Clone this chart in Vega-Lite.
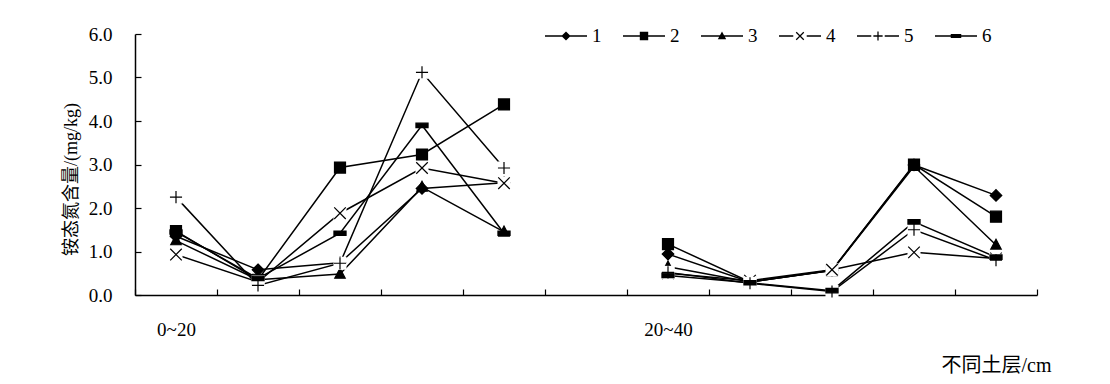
{
  "$schema": "https://vega.github.io/schema/vega-lite/v6.json",
  "width": 902,
  "height": 261,
  "autosize": "none",
  "padding": {"left": 135, "top": 34, "right": 73, "bottom": 89},
  "background": "white",
  "config": {"view": {"stroke": null}, "font": "Liberation Serif"},
  "data": {"values": [
    {"s": "1", "g": "a", "x": 1, "v": 1.35}, {"s": "1", "g": "a", "x": 2, "v": 0.58}, {"s": "1", "g": "a", "x": 3, "v": 0.74}, {"s": "1", "g": "a", "x": 4, "v": 2.45}, {"s": "1", "g": "a", "x": 5, "v": 2.58},
    {"s": "1", "g": "b", "x": 7, "v": 0.94}, {"s": "1", "g": "b", "x": 8, "v": 0.3}, {"s": "1", "g": "b", "x": 9, "v": 0.57}, {"s": "1", "g": "b", "x": 10, "v": 2.99}, {"s": "1", "g": "b", "x": 11, "v": 2.29},
    {"s": "2", "g": "a", "x": 1, "v": 1.47}, {"s": "2", "g": "a", "x": 2, "v": 0.35}, {"s": "2", "g": "a", "x": 3, "v": 2.93}, {"s": "2", "g": "a", "x": 4, "v": 3.23}, {"s": "2", "g": "a", "x": 5, "v": 4.38},
    {"s": "2", "g": "b", "x": 7, "v": 1.17}, {"s": "2", "g": "b", "x": 8, "v": 0.3}, {"s": "2", "g": "b", "x": 9, "v": 0.57}, {"s": "2", "g": "b", "x": 10, "v": 3.0}, {"s": "2", "g": "b", "x": 11, "v": 1.8},
    {"s": "3", "g": "a", "x": 1, "v": 1.25}, {"s": "3", "g": "a", "x": 2, "v": 0.35}, {"s": "3", "g": "a", "x": 3, "v": 0.48}, {"s": "3", "g": "a", "x": 4, "v": 2.48}, {"s": "3", "g": "a", "x": 5, "v": 1.45},
    {"s": "3", "g": "b", "x": 7, "v": 0.65}, {"s": "3", "g": "b", "x": 8, "v": 0.3}, {"s": "3", "g": "b", "x": 9, "v": 0.56}, {"s": "3", "g": "b", "x": 10, "v": 2.96}, {"s": "3", "g": "b", "x": 11, "v": 1.15},
    {"s": "4", "g": "a", "x": 1, "v": 0.93}, {"s": "4", "g": "a", "x": 2, "v": 0.3}, {"s": "4", "g": "a", "x": 3, "v": 1.88}, {"s": "4", "g": "a", "x": 4, "v": 2.92}, {"s": "4", "g": "a", "x": 5, "v": 2.57},
    {"s": "4", "g": "b", "x": 7, "v": 0.5}, {"s": "4", "g": "b", "x": 8, "v": 0.33}, {"s": "4", "g": "b", "x": 9, "v": 0.58}, {"s": "4", "g": "b", "x": 10, "v": 0.98}, {"s": "4", "g": "b", "x": 11, "v": 0.84},
    {"s": "5", "g": "a", "x": 1, "v": 2.25}, {"s": "5", "g": "a", "x": 2, "v": 0.22}, {"s": "5", "g": "a", "x": 3, "v": 0.73}, {"s": "5", "g": "a", "x": 4, "v": 5.12}, {"s": "5", "g": "a", "x": 5, "v": 2.92},
    {"s": "5", "g": "b", "x": 7, "v": 0.52}, {"s": "5", "g": "b", "x": 8, "v": 0.27}, {"s": "5", "g": "b", "x": 9, "v": 0.08}, {"s": "5", "g": "b", "x": 10, "v": 1.5}, {"s": "5", "g": "b", "x": 11, "v": 0.8},
    {"s": "6", "g": "a", "x": 1, "v": 1.45}, {"s": "6", "g": "a", "x": 2, "v": 0.38}, {"s": "6", "g": "a", "x": 3, "v": 1.42}, {"s": "6", "g": "a", "x": 4, "v": 3.9}, {"s": "6", "g": "a", "x": 5, "v": 1.42},
    {"s": "6", "g": "b", "x": 7, "v": 0.45}, {"s": "6", "g": "b", "x": 8, "v": 0.28}, {"s": "6", "g": "b", "x": 9, "v": 0.1}, {"s": "6", "g": "b", "x": 10, "v": 1.68}, {"s": "6", "g": "b", "x": 11, "v": 0.87}
  ]},
  "resolve": {"scale": {"shape": "independent"}},
  "encoding": {
    "x": {
      "field": "x", "type": "quantitative",
      "scale": {"domain": [0.5, 11.5], "nice": false, "zero": false},
      "axis": {
        "values": [0.5, 1.5, 2.5, 3.5, 4.5, 5.5, 6.5, 7.5, 8.5, 9.5, 10.5, 11.5],
        "labelExpr": "datum.value == 0.5 ? '0~20' : (datum.value == 6.5 ? '20~40' : '')",
        "labelOffset": 41, "labelFlush": false, "labelOverlap": false, "labelBound": false,
        "labelBaseline": "top", "labelPadding": 31, "labelFont": "Liberation Serif", "labelFontSize": 19, "labelColor": "black",
        "tickSize": -6, "tickColor": "black", "tickWidth": 1.2,
        "domainColor": "black", "domainWidth": 1.5, "grid": false,
        "title": "不同土层/cm", "titleX": 916, "titleY": 70, "titleAlign": "right", "titleBaseline": "middle",
        "titleFont": "Liberation Serif, Noto Sans CJK SC", "titleFontSize": 20, "titleFontWeight": "normal", "titleColor": "black"
      }
    },
    "y": {
      "field": "v", "type": "quantitative",
      "scale": {"domain": [0, 6], "nice": false},
      "axis": {
        "values": [0, 1, 2, 3, 4, 5, 6], "format": ".1f",
        "labelFont": "Liberation Serif", "labelFontSize": 19, "labelColor": "black", "labelPadding": 29,
        "tickSize": -6, "tickColor": "black", "tickWidth": 1.2,
        "domainColor": "black", "domainWidth": 1.5, "grid": false,
        "title": "铵态氮含量/(mg/kg)", "titleX": -55, "titleY": 145, "titleAngle": 270, "titleAlign": "center", "titleBaseline": "bottom",
        "titleFont": "Liberation Serif, Noto Sans CJK SC", "titleFontSize": 18, "titleFontWeight": "normal", "titleColor": "black"
      }
    }
  },
  "layer": [
    {
      "mark": {"type": "line", "color": "black", "strokeWidth": 1.5},
      "encoding": {"detail": [{"field": "s", "type": "nominal"}, {"field": "g", "type": "nominal"}]}
    },
    {
      "mark": {"type": "point", "filled": true, "fill": "black", "opacity": 0, "size": 10},
      "encoding": {
        "shape": {
          "field": "s", "type": "nominal",
          "scale": {
            "domain": ["1", "2", "3", "4", "5", "6"],
            "range": [
              "M-1,-0.036H1V0.036H-1ZM0,-0.22L0.22,0L0,0.22L-0.22,0Z",
              "M-1,-0.036H1V0.036H-1ZM-0.2,-0.2H0.2V0.2H-0.2Z",
              "M-1,-0.036H1V0.036H-1ZM0,-0.22L0.2,0.16L-0.2,0.16Z",
              "M-1,-0.036H-0.32V0.036H-1ZM0.32,-0.036H1V0.036H0.32ZM-0.159,-0.201L0.201,0.159L0.159,0.201L-0.201,-0.159ZM-0.201,0.159L0.159,-0.201L0.201,-0.159L-0.159,0.201Z",
              "M-1,-0.036H-0.32V0.036H-1ZM0.32,-0.036H1V0.036H0.32ZM-0.22,-0.03H0.22V0.03H-0.22ZM-0.03,-0.22H0.03V0.22H-0.03Z",
              "M-1,-0.036H1V0.036H-1ZM-0.25,-0.09H0.25V0.09H-0.25Z"
            ]
          },
          "legend": {
            "orient": "none", "legendX": 410, "legendY": -19, "direction": "horizontal", "columns": 6,
            "title": null, "symbolSize": 1764, "symbolOpacity": 1, "symbolStrokeWidth": 0, "symbolFillColor": "black",
            "labelFont": "Liberation Serif", "labelFontSize": 19, "labelColor": "black", "labelOffset": 5, "columnPadding": 21
          }
        }
      }
    },
    {
      "transform": [{"filter": "datum.s === '1' || datum.s === '2' || datum.s === '3'"}],
      "mark": {"type": "point", "filled": true, "fill": "black", "stroke": "black", "strokeWidth": 1.2, "opacity": 1, "size": 121},
      "encoding": {
        "shape": {
          "field": "s", "type": "nominal", "legend": null,
          "scale": {
            "domain": ["1", "2", "3"],
            "range": ["M0,-1.05L1.05,0L0,1.05L-1.05,0Z", "M-1,-1H1V1H-1Z", "M0,-1.05L0.95,0.75L-0.95,0.75Z"]
          }
        }
      }
    },
    {
      "transform": [{"filter": "datum.s === '4'"}],
      "mark": {"type": "square", "fill": "white", "opacity": 1, "size": 170, "strokeWidth": 0}
    },
    {
      "transform": [{"filter": "datum.s === '4'"}],
      "mark": {"type": "point", "filled": true, "fill": "black", "stroke": "black", "strokeWidth": 1.2, "opacity": 1, "size": 121},
      "encoding": {
        "shape": {
          "field": "s", "type": "nominal", "legend": null,
          "scale": {"domain": ["4"], "range": ["M-1.05,-1.05L1.05,1.05M-1.05,1.05L1.05,-1.05"]}
        }
      }
    },
    {
      "transform": [{"filter": "datum.s === '5'"}],
      "mark": {"type": "square", "fill": "white", "opacity": 1, "size": 170, "strokeWidth": 0}
    },
    {
      "transform": [{"filter": "datum.s === '5' || datum.s === '6'"}],
      "mark": {"type": "point", "filled": true, "fill": "black", "stroke": "black", "strokeWidth": 1.2, "opacity": 1, "size": 121},
      "encoding": {
        "shape": {
          "field": "s", "type": "nominal", "legend": null,
          "scale": {"domain": ["5", "6"], "range": ["M-1.1,0H1.1M0,-1.1V1.1", "M-1.1,-0.4H1.1V0.4H-1.1Z"]}
        }
      }
    }
  ]
}
